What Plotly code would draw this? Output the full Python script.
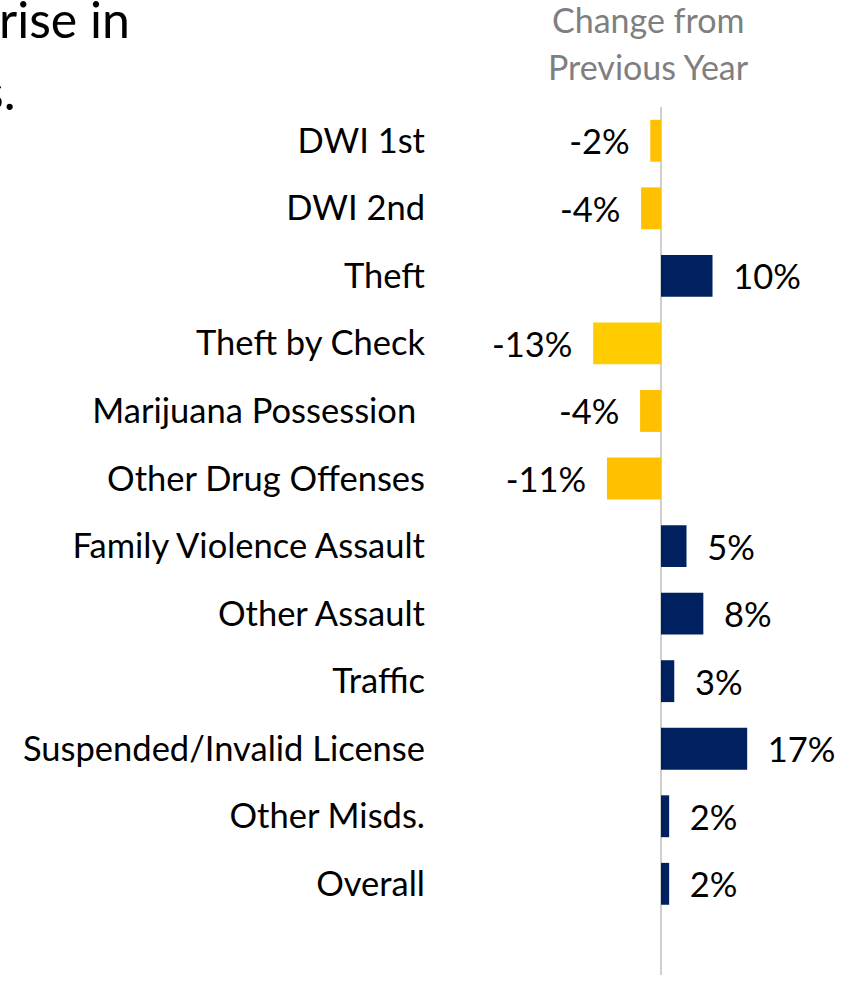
import plotly.graph_objects as go

categories = ["DWI 1st", "DWI 2nd", "Theft", "Theft by Check", "Marijuana Possession\u00a0",
              "Other Drug Offenses", "Family Violence Assault", "Other Assault", "Traffic",
              "Suspended/Invalid License", "Other Misds.", "Overall"]
change_pct = [-2.1, -3.9, 10.1, -13.3, -4.1, -10.6, 5.0, 8.3, 2.6, 16.9, 1.6, 1.6]
bar_colors = ["#FFC000", "#FFC000", "#002060", "#FFCC00", "#FFC000", "#FFC000",
              "#002060", "#002060", "#002060", "#002060", "#002060", "#002060"]
labels = [f"{round(v):d}%" for v in change_pct]
pad = "\u00a0\u00a0"
texts = [(pad + t) if v >= 0 else (t + pad) for t, v in zip(labels, change_pct)]

FONT = "Lato"
FS = 34.5
W, H = 859, 981
# plot-area edges in screen pixels
PL, PR, PT, PB = 440, 859, 107, 975
L, R, T, B = PL, W - PR, PT, H - PB
PX_PER = 5.1
ZERO_PX = 661
x_min = -(ZERO_PX - PL) / PX_PER
x_max = (PR - ZERO_PX) / PX_PER

fig = go.Figure(go.Bar(
    x=change_pct, y=categories, orientation="h",
    marker=dict(color=bar_colors, line=dict(width=0)),
    width=0.62,
    text=texts, textposition="outside", cliponaxis=False,
    textfont=dict(family=FONT, size=FS, color="#000000"),
    hoverinfo="skip",
))

def sx(px):
    return (px - PL) / (PR - PL)

def sy(py):
    return (PB - py) / (PB - PT)

def note(text, x, y, xanchor, size, color):
    return dict(text=text, xref="paper", yref="paper", x=sx(x), y=sy(y),
                xanchor=xanchor, yanchor="middle", showarrow=False,
                font=dict(family=FONT, size=size, color=color))

fig.update_layout(
    width=W, height=H,
    margin=dict(l=L, r=R, t=T, b=B),
    paper_bgcolor="white", plot_bgcolor="white",
    showlegend=False,
    xaxis=dict(range=[x_min, x_max], showgrid=False, showticklabels=False, ticks="",
               zeroline=True, zerolinecolor="#cfcfcf", zerolinewidth=2, showline=False,
               fixedrange=True),
    yaxis=dict(categoryorder="array", categoryarray=categories,
               range=[len(categories) - 1 + 1.35, -0.5], showgrid=False, zeroline=False,
               showline=False, ticks="", ticklabelstandoff=14,
               tickfont=dict(family=FONT, size=FS, color="#000000"), fixedrange=True),
    annotations=[
        note("Change from", 648, 19.5, "center", 34, "#7f7f7f"),
        note("Previous Year", 648, 66.5, "center", 34, "#7f7f7f"),
        note("rise in", 132, 19.5, "right", 50, "#000000"),
        note("s.", 17, 90.5, "right", 50, "#000000"),
    ],
)

fig.write_html("out.html",
               config={"displayModeBar": False, "staticPlot": True},
               post_script="document.body.style.margin='0';document.body.style.overflow='hidden';")
